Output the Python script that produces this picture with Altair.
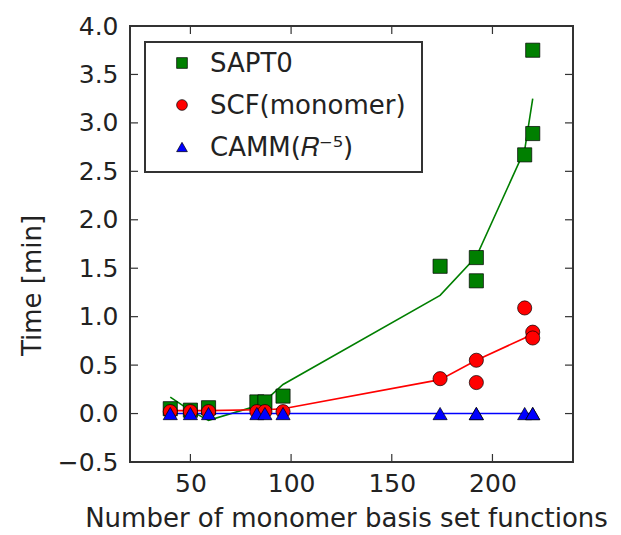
import altair as alt
import pandas as pd

# ---- data ----
series_names = ["SAPT0", "SCF(monomer)", "CAMM(𝑅⁻⁵)"]
colors = ["#007f00", "#ff0000", "#0000ff"]
shapes = ["square", "circle", "triangle-up"]

n_basis = [40, 50, 59, 83, 87, 96, 174, 192, 192, 216, 220, 220]
sapt0_time = [0.05, 0.035, 0.06, 0.12, 0.12, 0.18, 1.52, 1.61, 1.37, 2.67, 3.75, 2.89]
scf_time = [0.02, 0.02, 0.02, 0.02, 0.02, 0.02, 0.36, 0.55, 0.32, 1.09, 0.84, 0.78]
camm_time = [0.0, 0.0, 0.0, 0.0, 0.0, 0.0, 0.0, 0.0, 0.0, 0.0, 0.0, 0.0]

fit_x = [40, 50, 59, 83, 87, 96, 174, 192, 216, 220]
sapt0_fit = [0.17, 0.03, -0.07, 0.08, 0.13, 0.30, 1.22, 1.62, 2.72, 3.25]
scf_fit = [0.03, 0.03, 0.03, 0.04, 0.04, 0.05, 0.35, 0.55, 0.78, 0.84]
camm_fit = [0.0, 0.0, 0.0, 0.0, 0.0, 0.0, 0.0, 0.0, 0.0, 0.0]

x_ticks = [50, 100, 150, 200]
y_ticks = [-0.5, 0.0, 0.5, 1.0, 1.5, 2.0, 2.5, 3.0, 3.5, 4.0]

# ---- tables ----
pts = pd.concat([
    pd.DataFrame({"x": n_basis, "y": vals, "series": name, "order": i})
    for i, (name, vals) in enumerate(zip(series_names, [sapt0_time, scf_time, camm_time]))
])
fits = pd.concat([
    pd.DataFrame({"x": fit_x, "y": vals, "series": name})
    for name, vals in zip(series_names, [sapt0_fit, scf_fit, camm_fit])
])
xt = pd.DataFrame({"x": x_ticks})
yt = pd.DataFrame({"y": y_ticks})

W, H = 443, 436
FONT = "DejaVu Sans"
TXT = "#222"

xscale = alt.Scale(domain=[20, 240], nice=False, zero=False)
yscale = alt.Scale(domain=[-0.5, 4.0], nice=False, zero=False)

def X():
    return alt.X("x:Q", scale=xscale, axis=alt.Axis(
        values=x_ticks, title="Number of monomer basis set functions",
        grid=False, domain=False, ticks=False, labelPadding=9,
        labelFontSize=25, labelFont=FONT, labelColor=TXT,
        titleFontSize=26, titleFont=FONT, titleFontWeight="normal", titleColor=TXT,
        titleX=216, titleY=64, titleBaseline="alphabetic", titleAlign="center"))

def Y():
    return alt.Y("y:Q", scale=yscale, axis=alt.Axis(
        values=y_ticks, format=".1f", title="Time [min]",
        grid=False, domain=False, ticks=False, labelPadding=12,
        labelFontSize=25, labelFont=FONT, labelColor=TXT,
        titleFontSize=26, titleFont=FONT, titleFontWeight="normal", titleColor=TXT,
        titleX=-98, titleY=259, titleAlign="center", titleBaseline="middle"))

color_scale = alt.Scale(domain=series_names, range=colors)
shape_scale = alt.Scale(domain=series_names, range=shapes)

lines = alt.Chart(fits).mark_line(strokeWidth=1.6).encode(
    x=X(), y=Y(),
    stroke=alt.Stroke("series:N", scale=color_scale, legend=None),
    detail="series:N",
)

points = alt.Chart(pts).mark_point(filled=True, size=200, stroke="black",
                                   strokeWidth=0.7, opacity=1).encode(
    x=X(), y=Y(),
    color=alt.Color("series:N", scale=color_scale, legend=None),
    shape=alt.Shape("series:N", scale=shape_scale, legend=None),
    order="order:Q",
)

tick_color = "#333"
xt_bottom = alt.Chart(xt).mark_rule(color=tick_color, strokeWidth=1.2).encode(
    x=X(), y=alt.value(H), y2=alt.value(H - 8))
xt_top = alt.Chart(xt).mark_rule(color=tick_color, strokeWidth=1.2).encode(
    x=X(), y=alt.value(0), y2=alt.value(8))
yt_left = alt.Chart(yt).mark_rule(color=tick_color, strokeWidth=1.2).encode(
    y=Y(), x=alt.value(0), x2=alt.value(8))
yt_right = alt.Chart(yt).mark_rule(color=tick_color, strokeWidth=1.2).encode(
    y=Y(), x=alt.value(W), x2=alt.value(W - 8))

# ---- legend box (drawn as layers, in pixel space of the plot area) ----
LEG_L, LEG_R, LEG_T, LEG_B = 15, 292, 16, 146
LEG_SYM_X, LEG_TXT_X, LEG_ROW0, LEG_DY = 52, 80, 37, 42

legend_box = alt.Chart(pd.DataFrame({"k": [0]})).mark_rect(
    fill="white", stroke="#333", strokeWidth=2).encode(
    x=alt.value(LEG_L), x2=alt.value(LEG_R), y=alt.value(LEG_T), y2=alt.value(LEG_B))

legend_layers = [legend_box]
for i, (name, col, shp) in enumerate(zip(series_names, colors, shapes)):
    row = pd.DataFrame({"label": [name]})
    yy = LEG_ROW0 + LEG_DY * i
    legend_layers.append(
        alt.Chart(row).mark_point(filled=True, size=115, stroke="black",
                                  strokeWidth=0.7, opacity=1, shape=shp, fill=col).encode(
            x=alt.value(LEG_SYM_X), y=alt.value(yy)))
    legend_layers.append(
        alt.Chart(row).mark_text(align="left", baseline="middle", font=FONT,
                                 fontSize=26, color=TXT).encode(
            x=alt.value(LEG_TXT_X), y=alt.value(yy + 1), text="label:N"))

chart = alt.layer(lines, points, xt_bottom, xt_top, yt_left, yt_right,
                  *legend_layers).properties(
    width=W, height=H,
    autosize=alt.AutoSizeParams(type="none"),
    padding={"left": 122, "top": 18, "right": 40, "bottom": 70},
    background="white",
).configure_view(
    stroke="#333", strokeWidth=2,
)

chart.save("out.html", embed_options={"renderer": "svg", "actions": False})
